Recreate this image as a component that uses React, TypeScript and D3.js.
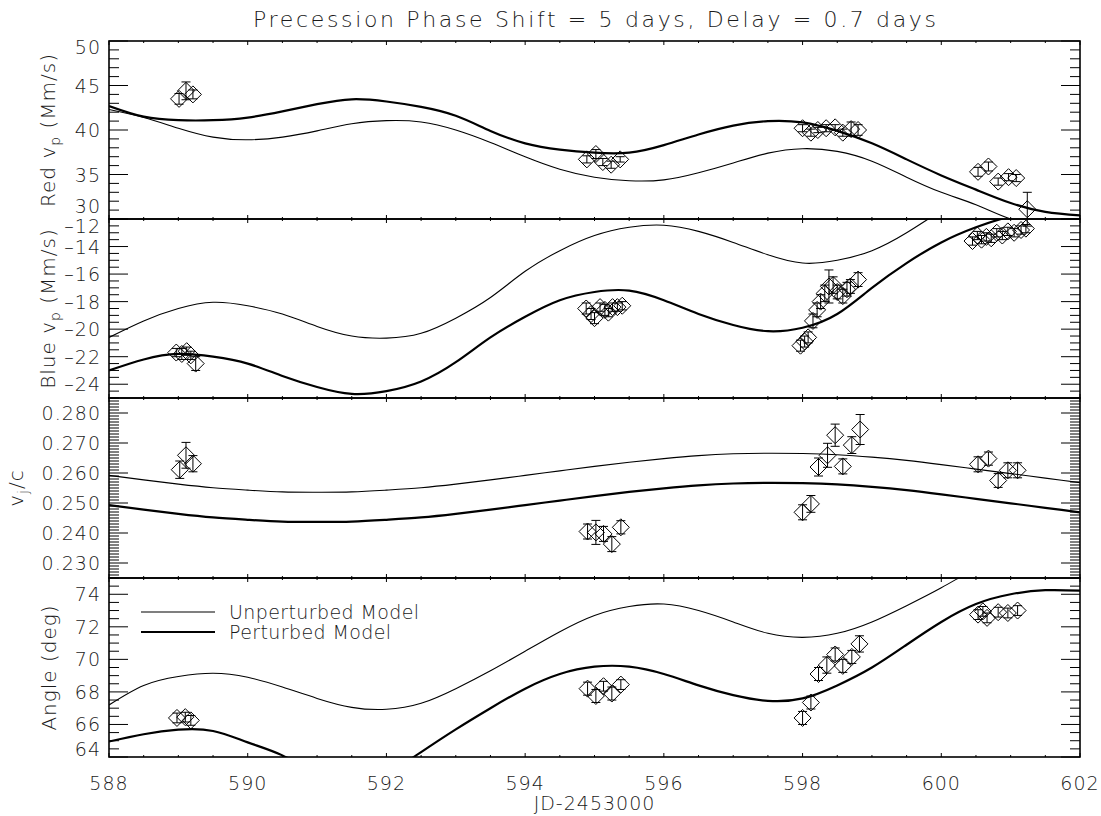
import React from 'react';
import * as d3 from 'd3';

// model curves, sampled every half day
const modelDays = [588, 588.5, 589, 589.5, 590, 590.5, 591, 591.5, 592, 592.5, 593, 593.5, 594, 594.5, 595, 595.5, 596, 596.5, 597, 597.5, 598, 598.5, 599, 599.5, 600, 600.5, 601, 601.5, 602];

const redThin = [42.3, 41.4, 40.2, 39.2, 38.9, 39.2, 39.9, 40.7, 41.05, 40.9, 40.0, 38.6, 37.0, 35.6, 34.7, 34.3, 34.4, 35.2, 36.3, 37.4, 37.9, 37.6, 36.5, 34.7, 33.0, 31.6, 30.0, 29.2, 28.9];
const redThick = [42.7, 41.5, 41.1, 41.1, 41.4, 42.1, 42.9, 43.45, 43.2, 42.6, 41.6, 39.9, 38.5, 37.8, 37.45, 37.45, 38.3, 39.5, 40.5, 41.0, 40.85, 39.9, 38.5, 36.7, 34.9, 33.3, 31.8, 30.8, 30.4];

const blueThin = [-20.6, -19.4, -18.5, -18.05, -18.3, -18.9, -19.8, -20.5, -20.65, -20.3, -19.2, -17.7, -15.8, -14.3, -13.2, -12.6, -12.45, -12.9, -13.7, -14.6, -15.2, -15.0, -14.3, -13.0, -11.4, -10.0, -9.0, -8.3, -8.0];
const blueThick = [-23.0, -22.2, -21.8, -22.0, -22.5, -23.4, -24.2, -24.7, -24.5, -23.8, -22.4, -20.6, -19.1, -17.9, -17.3, -17.2, -17.9, -18.9, -19.7, -20.15, -19.9, -18.9, -17.0, -15.2, -13.7, -12.6, -11.8, -11.3, -11.1];

const vjThin = [0.2592, 0.2577, 0.2563, 0.2551, 0.2543, 0.2537, 0.2536, 0.2537, 0.2543, 0.2551, 0.2563, 0.2577, 0.2592, 0.2607, 0.2622, 0.2636, 0.2648, 0.2658, 0.2664, 0.2666, 0.2665, 0.2661, 0.2653, 0.2642, 0.2628, 0.2613, 0.2598, 0.2583, 0.2568];
const vjThick = [0.2493, 0.2478, 0.2464, 0.2452, 0.2444, 0.2438, 0.2437, 0.2438, 0.2444, 0.2452, 0.2464, 0.2478, 0.2493, 0.2508, 0.2523, 0.2537, 0.2549, 0.2559, 0.2565, 0.2567, 0.2566, 0.2562, 0.2554, 0.2543, 0.2529, 0.2514, 0.2499, 0.2484, 0.2469];

const angleThin = [67.2, 68.4, 68.95, 69.15, 68.9, 68.3, 67.6, 67.05, 66.93, 67.3, 68.2, 69.3, 70.5, 71.7, 72.7, 73.25, 73.4, 73.0, 72.3, 71.6, 71.35, 71.6, 72.3, 73.3, 74.4, 75.6, 76.6, 77.3, 77.6];
const angleThick = [64.95, 65.4, 65.68, 65.6, 64.9, 64.1, 63.0, 62.5, 63.0, 64.3, 65.7, 67.0, 68.2, 69.1, 69.55, 69.55, 69.1, 68.4, 67.8, 67.45, 67.6, 68.4, 69.5, 70.9, 72.3, 73.4, 74.0, 74.25, 74.22];

// observations
const redDays = [589.01, 589.11, 589.21, 594.89, 595.02, 595.12, 595.24, 595.37, 598.0, 598.12, 598.22, 598.34, 598.47, 598.58, 598.7, 598.8, 600.53, 600.68, 600.82, 600.97, 601.08, 601.24];
const redVals = [43.5, 44.4, 44.0, 36.7, 37.3, 36.4, 36.1, 36.7, 40.2, 39.7, 40.0, 40.2, 40.3, 39.7, 40.1, 40.0, 35.3, 35.9, 34.2, 34.7, 34.6, 31.1];
const redErr = [0.6, 1.0, 0.5, 0.4, 0.5, 0.4, 0.4, 0.3, 0.4, 0.4, 0.3, 0.4, 0.3, 0.4, 0.8, 0.6, 0.5, 0.5, 0.4, 0.4, 0.4, 1.9];

const blueDays = [588.97, 589.05, 589.12, 589.18, 589.25, 594.88, 594.95, 595.0, 595.08, 595.15, 595.2, 595.26, 595.33, 595.4, 597.97, 598.03, 598.08, 598.15, 598.21, 598.26, 598.32, 598.38, 598.44, 598.5, 598.58, 598.64, 598.69, 598.8, 600.45, 600.52, 600.58, 600.65, 600.72, 600.8, 600.88, 600.96, 601.05, 601.15, 601.22];
const blueVals = [-21.7, -21.8, -21.6, -21.9, -22.5, -18.5, -18.9, -19.2, -18.4, -18.6, -18.8, -18.4, -18.4, -18.3, -21.2, -20.9, -20.6, -19.4, -18.6, -18.0, -17.4, -16.9, -16.8, -17.3, -17.6, -17.1, -16.9, -16.4, -13.6, -13.2, -13.5, -13.3, -13.4, -13.0, -13.2, -12.9, -13.0, -12.8, -12.7];
const blueErr = [0.3, 0.4, 0.3, 0.3, 0.5, 0.4, 0.4, 0.4, 0.3, 0.4, 0.3, 0.3, 0.3, 0.3, 0.4, 0.4, 0.4, 0.5, 0.5, 0.5, 0.6, 1.2, 0.6, 0.5, 0.5, 0.5, 0.5, 0.5, 0.3, 0.3, 0.3, 0.3, 0.3, 0.3, 0.3, 0.3, 0.3, 0.3, 0.3];

const vjDays = [589.02, 589.11, 589.21, 594.9, 595.02, 595.13, 595.25, 595.38, 598.0, 598.12, 598.23, 598.36, 598.47, 598.58, 598.71, 598.83, 600.53, 600.68, 600.82, 600.96, 601.1];
const vjVals = [0.2611, 0.2659, 0.2631, 0.2405, 0.2402, 0.2397, 0.2363, 0.2419, 0.2469, 0.2497, 0.262, 0.2659, 0.2726, 0.2622, 0.2693, 0.2745, 0.2629, 0.2648, 0.2575, 0.2609, 0.2609];
const vjErr = [0.0029, 0.0043, 0.0027, 0.0025, 0.004, 0.0025, 0.0025, 0.0022, 0.0025, 0.0028, 0.003, 0.004, 0.0037, 0.0025, 0.0028, 0.005, 0.0025, 0.0022, 0.0023, 0.0025, 0.0025];

const angleDays = [588.98, 589.1, 589.18, 594.9, 595.02, 595.13, 595.25, 595.38, 598.0, 598.12, 598.23, 598.35, 598.47, 598.58, 598.71, 598.82, 600.53, 600.6, 600.66, 600.82, 600.96, 601.1];
const angleVals = [66.4, 66.45, 66.25, 68.2, 67.75, 68.35, 67.9, 68.45, 66.4, 67.35, 69.1, 69.65, 70.3, 69.6, 70.15, 70.95, 72.75, 72.95, 72.55, 72.9, 72.85, 73.0];
const angleErr = [0.3, 0.3, 0.3, 0.4, 0.4, 0.3, 0.4, 0.3, 0.4, 0.4, 0.4, 0.5, 0.4, 0.4, 0.4, 0.5, 0.3, 0.3, 0.3, 0.3, 0.3, 0.3];

const xTickLabels = ['588', '590', '592', '594', '596', '598', '600', '602'];
const legendLabels = ['Unperturbed Model', 'Perturbed Model'];
const title = 'Precession Phase Shift = 5 days, Delay = 0.7 days';
const xTitle = 'JD-2453000';

const W = 1101;
const H = 816;
const plotLeft = 109;
const plotRight = 1080;
const panelTops = [41, 219, 398, 578];
const plotBottom = 757;
const font = "'DejaVu Sans', 'Liberation Sans', sans-serif";
const textWeight = 200;
const ink = '#1a1a1a';

const xScale = d3.scaleLinear().domain([588, 602]).range([plotLeft, plotRight]);

const stepTicks = (d0: number, d1: number, step: number) => {
  const out: number[] = [];
  const n0 = Math.ceil(d0 / step - 1e-6);
  const n1 = Math.floor(d1 / step + 1e-6);
  for (let i = n0; i <= n1; i++) out.push(+(i * step).toFixed(6));
  return out;
};

interface PanelDef {
  id: string;
  domain: [number, number];
  major: number;
  minor: number;
  fmt: (v: number) => string;
  thin: number[];
  thick: number[];
  days: number[];
  vals: number[];
  errs: number[];
  titleX: number;
  yTitle: React.ReactNode;
}

const panels: PanelDef[] = [
  {
    id: 'red', domain: [30, 50], major: 5, minor: 1, fmt: (v) => String(v),
    thin: redThin, thick: redThick, days: redDays, vals: redVals, errs: redErr, titleX: 55,
    yTitle: (<>Red v<tspan dy={5} fontSize={14}>p</tspan><tspan dy={-5}> (Mm/s)</tspan></>),
  },
  {
    id: 'blue', domain: [-25, -12], major: 2, minor: 0.5, fmt: (v) => (v < 0 ? '\u2013' + Math.abs(v) : String(v)),
    thin: blueThin, thick: blueThick, days: blueDays, vals: blueVals, errs: blueErr, titleX: 55,
    yTitle: (<>Blue v<tspan dy={5} fontSize={14}>p</tspan><tspan dy={-5}> (Mm/s)</tspan></>),
  },
  {
    id: 'vj', domain: [0.225, 0.285], major: 0.01, minor: 0.001, fmt: (v) => v.toFixed(3),
    thin: vjThin, thick: vjThick, days: vjDays, vals: vjVals, errs: vjErr, titleX: 23,
    yTitle: (<>v<tspan dy={5} fontSize={14}>j</tspan><tspan dy={-5}>/c</tspan></>),
  },
  {
    id: 'angle', domain: [64, 75], major: 2, minor: 0.5, fmt: (v) => String(v),
    thin: angleThin, thick: angleThick, days: angleDays, vals: angleVals, errs: angleErr, titleX: 56,
    yTitle: 'Angle (deg)',
  },
];

const Panel: React.FC<{ p: PanelDef; top: number; bottom: number; last: boolean }> = ({ p, top, bottom, last }) => {
  const y = d3.scaleLinear().domain(p.domain).range([bottom, top]);
  const line = d3
    .line<number>()
    .x((_, i) => xScale(modelDays[i]))
    .y((v) => y(v))
    .curve(d3.curveNatural);
  const majors = stepTicks(p.domain[0], p.domain[1], p.major);
  const minors = stepTicks(p.domain[0], p.domain[1], p.minor).filter(
    (v) => !majors.some((m) => Math.abs(m - v) < p.minor * 0.01)
  );
  const xMajors = stepTicks(588, 602, 2);
  const xMinors = stepTicks(588, 602, 0.5).filter((v) => v % 2 !== 0);
  const clipId = `clip-${p.id}`;
  const ds = 8.5;
  return (
    <g>
      <defs>
        <clipPath id={clipId}>
          <rect x={plotLeft} y={top} width={plotRight - plotLeft} height={bottom - top} />
        </clipPath>
      </defs>
      <g clipPath={`url(#${clipId})`} fill="none" stroke="#000">
        <path d={line(p.thin) || ''} strokeWidth={1.1} />
        <path d={line(p.thick) || ''} strokeWidth={2.2} />
      </g>
      <g fill="none" stroke="#000" strokeWidth={1}>
        {p.days.map((d, i) => {
          const cx = xScale(d);
          const cy = y(p.vals[i]);
          const y0 = y(p.vals[i] - p.errs[i]);
          const y1 = y(p.vals[i] + p.errs[i]);
          return (
            <g key={i}>
              <line x1={cx} x2={cx} y1={y0} y2={y1} />
              <line x1={cx - 4.5} x2={cx + 4.5} y1={y0} y2={y0} />
              <line x1={cx - 4.5} x2={cx + 4.5} y1={y1} y2={y1} />
              <path d={`M${cx},${cy - ds}L${cx + ds},${cy}L${cx},${cy + ds}L${cx - ds},${cy}Z`} />
            </g>
          );
        })}
      </g>
      <g stroke="#000" strokeWidth={1}>
        {majors.map((v) => (
          <g key={`M${v}`}>
            <line x1={plotLeft} x2={plotLeft + 19} y1={y(v)} y2={y(v)} />
            <line x1={plotRight} x2={plotRight - 19} y1={y(v)} y2={y(v)} />
          </g>
        ))}
        {minors.map((v) => (
          <g key={`m${v}`}>
            <line x1={plotLeft} x2={plotLeft + 10} y1={y(v)} y2={y(v)} />
            <line x1={plotRight} x2={plotRight - 10} y1={y(v)} y2={y(v)} />
          </g>
        ))}
        {xMajors.map((v) => (
          <g key={`X${v}`}>
            <line x1={xScale(v)} x2={xScale(v)} y1={bottom} y2={bottom - 4} />
            <line x1={xScale(v)} x2={xScale(v)} y1={top} y2={top + 4} />
          </g>
        ))}
        {xMinors.map((v) => (
          <g key={`x${v}`}>
            <line x1={xScale(v)} x2={xScale(v)} y1={bottom} y2={bottom - 2} />
            <line x1={xScale(v)} x2={xScale(v)} y1={top} y2={top + 2} />
          </g>
        ))}
      </g>
      <rect x={plotLeft} y={top} width={plotRight - plotLeft} height={bottom - top} fill="none" stroke="#000" strokeWidth={1.6} />
      <g fontFamily={font} fontWeight={textWeight} fontSize={19} fill={ink} textAnchor="end" letterSpacing={1}>
        {majors.map((v) => {
          let cy = y(v);
          // nudge labels sitting on a panel edge inward, as in the original
          if (Math.abs(cy - top) < 1) cy += p.id === 'blue' ? 7 : 6;
          if (Math.abs(cy - bottom) < 1) cy -= p.id === 'red' ? 13 : 8;
          return (
            <text key={v} x={101} y={cy + 7}>
              {p.fmt(v)}
            </text>
          );
        })}
      </g>
      <text
        transform={`translate(${p.titleX},${(top + bottom) / 2}) rotate(-90)`}
        textAnchor="middle"
        fontFamily={font}
        fontWeight={textWeight}
        fontSize={20}
        fill={ink}
        letterSpacing={1}
      >
        {p.yTitle}
      </text>
      {last && (
        <g fontFamily={font} fontWeight={textWeight} fontSize={19} fill={ink} textAnchor="middle" letterSpacing={1}>
          {xMajors.map((v, i) => (
            <text key={v} x={xScale(v)} y={790}>
              {xTickLabels[i]}
            </text>
          ))}
        </g>
      )}
    </g>
  );
};

const App: React.FC = () => {
  return (
    <svg
      width={W}
      height={H}
      viewBox={`0 0 ${W} ${H}`}
      style={{ position: 'absolute', left: 0, top: 0, background: '#fff' }}
    >
      <rect width={W} height={H} fill="#fff" />
      <text x={594.5} y={27} textAnchor="middle" fontFamily={font} fontWeight={textWeight} fontSize={22} fill={ink} textLength={683} lengthAdjust="spacing">
        {title}
      </text>
      {panels.map((p, i) => (
        <Panel key={p.id} p={p} top={panelTops[i]} bottom={i < 3 ? panelTops[i + 1] : plotBottom} last={i === 3} />
      ))}
      <g stroke="#000" fill="none">
        <line x1={141} x2={215} y1={612} y2={612} strokeWidth={1.1} />
        <line x1={141} x2={215} y1={632} y2={632} strokeWidth={2.2} />
      </g>
      <g fontFamily={font} fontWeight={textWeight} fontSize={19} fill={ink} letterSpacing={0.4}>
        <text x={229} y={619}>{legendLabels[0]}</text>
        <text x={229} y={639}>{legendLabels[1]}</text>
      </g>
      <text x={594.5} y={810} textAnchor="middle" fontFamily={font} fontWeight={textWeight} fontSize={19} fill={ink} letterSpacing={1}>
        {xTitle}
      </text>
    </svg>
  );
};

export default App;
